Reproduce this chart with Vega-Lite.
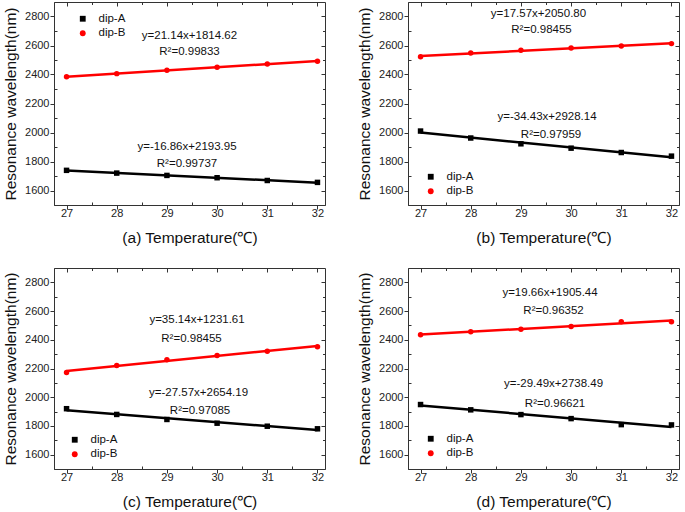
{
  "$schema": "https://vega.github.io/schema/vega-lite/v6.json",
  "padding": {"left": 3, "top": 1, "right": 0, "bottom": 0},
  "background": "white",
  "config": {
    "font": "Liberation Sans",
    "view": {"stroke": "#333", "strokeWidth": 1},
    "axis": {"grid": false, "domainColor": "#333", "tickColor": "#333", "labelColor": "#222", "titleColor": "#111", "labelFontSize": 11, "titleFontSize": 15.5, "titleFontWeight": "normal", "labelPadding": 1, "labelFont": "Liberation Sans", "titleFont": "Liberation Sans", "format": "d", "labelOverlap": false},
    "axisX": {"titlePadding": 11.5, "labelPadding": -1.5},
    "legend": {"labelFontSize": 11.5, "labelColor": "#111", "labelFont": "Liberation Sans", "symbolSize": 34, "rowPadding": 1.5, "labelOffset": 10, "padding": 0, "title": null, "symbolStrokeWidth": 0}
  },
  "datasets": {
    "pts": [
      {"panel": "a", "series": "dip-A", "t": 27, "wl": 1739}, {"panel": "a", "series": "dip-A", "t": 28, "wl": 1720}, {"panel": "a", "series": "dip-A", "t": 29, "wl": 1704}, {"panel": "a", "series": "dip-A", "t": 30, "wl": 1688}, {"panel": "a", "series": "dip-A", "t": 31, "wl": 1669}, {"panel": "a", "series": "dip-A", "t": 32, "wl": 1656},
      {"panel": "a", "series": "dip-B", "t": 27, "wl": 2385}, {"panel": "a", "series": "dip-B", "t": 28, "wl": 2406}, {"panel": "a", "series": "dip-B", "t": 29, "wl": 2429}, {"panel": "a", "series": "dip-B", "t": 30, "wl": 2450}, {"panel": "a", "series": "dip-B", "t": 31, "wl": 2473}, {"panel": "a", "series": "dip-B", "t": 32, "wl": 2492},
      {"panel": "b", "series": "dip-A", "t": 27, "wl": 2010}, {"panel": "b", "series": "dip-A", "t": 28, "wl": 1962}, {"panel": "b", "series": "dip-A", "t": 29, "wl": 1922}, {"panel": "b", "series": "dip-A", "t": 30, "wl": 1892}, {"panel": "b", "series": "dip-A", "t": 31, "wl": 1862}, {"panel": "b", "series": "dip-A", "t": 32, "wl": 1837},
      {"panel": "b", "series": "dip-B", "t": 27, "wl": 2523}, {"panel": "b", "series": "dip-B", "t": 28, "wl": 2548}, {"panel": "b", "series": "dip-B", "t": 29, "wl": 2567}, {"panel": "b", "series": "dip-B", "t": 30, "wl": 2583}, {"panel": "b", "series": "dip-B", "t": 31, "wl": 2597}, {"panel": "b", "series": "dip-B", "t": 32, "wl": 2613},
      {"panel": "c", "series": "dip-A", "t": 27, "wl": 1920}, {"panel": "c", "series": "dip-A", "t": 28, "wl": 1880}, {"panel": "c", "series": "dip-A", "t": 29, "wl": 1845}, {"panel": "c", "series": "dip-A", "t": 30, "wl": 1819}, {"panel": "c", "series": "dip-A", "t": 31, "wl": 1798}, {"panel": "c", "series": "dip-A", "t": 32, "wl": 1780},
      {"panel": "c", "series": "dip-B", "t": 27, "wl": 2172}, {"panel": "c", "series": "dip-B", "t": 28, "wl": 2221}, {"panel": "c", "series": "dip-B", "t": 29, "wl": 2261}, {"panel": "c", "series": "dip-B", "t": 30, "wl": 2291}, {"panel": "c", "series": "dip-B", "t": 31, "wl": 2320}, {"panel": "c", "series": "dip-B", "t": 32, "wl": 2352},
      {"panel": "d", "series": "dip-A", "t": 27, "wl": 1949}, {"panel": "d", "series": "dip-A", "t": 28, "wl": 1912}, {"panel": "d", "series": "dip-A", "t": 29, "wl": 1879}, {"panel": "d", "series": "dip-A", "t": 30, "wl": 1851}, {"panel": "d", "series": "dip-A", "t": 31, "wl": 1809}, {"panel": "d", "series": "dip-A", "t": 32, "wl": 1807},
      {"panel": "d", "series": "dip-B", "t": 27, "wl": 2435}, {"panel": "d", "series": "dip-B", "t": 28, "wl": 2456}, {"panel": "d", "series": "dip-B", "t": 29, "wl": 2474}, {"panel": "d", "series": "dip-B", "t": 30, "wl": 2493}, {"panel": "d", "series": "dip-B", "t": 31, "wl": 2526}, {"panel": "d", "series": "dip-B", "t": 32, "wl": 2526}
    ],
    "ann": [
      {"panel": "a", "t": 29.45, "wl": 2666, "label": "y=21.14x+1814.62"},
      {"panel": "a", "t": 29.45, "wl": 2557, "label": "R²=0.99833"},
      {"panel": "a", "t": 29.4, "wl": 1901, "label": "y=-16.86x+2193.95"},
      {"panel": "a", "t": 29.4, "wl": 1785, "label": "R²=0.99737"},
      {"panel": "b", "t": 29.35, "wl": 2816, "label": "y=17.57x+2050.80"},
      {"panel": "b", "t": 29.41, "wl": 2708, "label": "R²=0.98455"},
      {"panel": "b", "t": 29.52, "wl": 2108, "label": "y=-34.43x+2928.14"},
      {"panel": "b", "t": 29.6, "wl": 1985, "label": "R²=0.97959"},
      {"panel": "c", "t": 29.6, "wl": 2539, "label": "y=35.14x+1231.61"},
      {"panel": "c", "t": 29.49, "wl": 2403, "label": "R²=0.98455"},
      {"panel": "c", "t": 29.63, "wl": 2030, "label": "y=-27.57x+2654.19"},
      {"panel": "c", "t": 29.66, "wl": 1904, "label": "R²=0.97085"},
      {"panel": "d", "t": 29.58, "wl": 2723, "label": "y=19.66x+1905.44"},
      {"panel": "d", "t": 29.65, "wl": 2602, "label": "R²=0.96352"},
      {"panel": "d", "t": 29.65, "wl": 2091, "label": "y=-29.49x+2738.49"},
      {"panel": "d", "t": 29.68, "wl": 1951, "label": "R²=0.96621"}
    ]
  },
  "columns": 2,
  "spacing": {"row": 21, "column": 31},
  "resolve": {"scale": {"color": "independent", "shape": "independent"}, "legend": {"color": "independent", "shape": "independent"}},
  "concat": [
    {
      "width": 271, "height": 203,
      "resolve": {"axis": {"x": "independent", "y": "independent"}},
      "layer": [
        {"data": {"name": "pts"}, "transform": [{"filter": "datum.panel === 'a'"}, {"regression": "wl", "on": "t", "groupby": ["series"]}],
         "mark": {"type": "line", "strokeWidth": 2.5},
         "encoding": {
           "x": {"field": "t", "type": "quantitative", "scale": {"domain": [26.75, 32.15], "nice": false, "zero": false}, "axis": {"values": [27, 27.5, 28, 28.5, 29, 29.5, 30, 30.5, 31, 31.5, 32], "labelExpr": "datum.value % 1 === 0 ? datum.label : ''", "tickSize": {"condition": {"test": "datum.value % 1 !== 0", "value": -3}, "value": 4}, "title": "(a) Temperature(℃)"}},
           "y": {"field": "wl", "type": "quantitative", "scale": {"domain": [1500, 2900], "nice": false, "zero": false}, "axis": {"values": [1600, 1700, 1800, 1900, 2000, 2100, 2200, 2300, 2400, 2500, 2600, 2700, 2800], "labelExpr": "datum.value % 200 === 0 ? datum.label : ''", "tickSize": {"condition": {"test": "datum.value % 200 !== 0", "value": -3}, "value": 4}, "title": "Resonance wavelength(nm)", "titlePadding": 6}},
           "stroke": {"field": "series", "type": "nominal", "scale": {"domain": ["dip-A", "dip-B"], "range": ["#000000", "#ff0000"]}, "legend": null}}},
        {"data": {"name": "pts"}, "transform": [{"filter": "datum.panel === 'a'"}],
         "mark": {"type": "point", "filled": true, "opacity": 1},
         "encoding": {
           "x": {"field": "t", "type": "quantitative", "axis": null},
           "y": {"field": "wl", "type": "quantitative", "axis": null},
           "color": {"field": "series", "type": "nominal", "scale": {"domain": ["dip-A", "dip-B"], "range": ["#000000", "#ff0000"]}, "legend": {"orient": "top-left", "offset": 11, "symbolOffset": 12}},
           "shape": {"field": "series", "type": "nominal", "scale": {"domain": ["dip-A", "dip-B"], "range": ["square", "circle"]}, "legend": {"orient": "top-left", "offset": 11, "symbolOffset": 12}}}},
        {"data": {"name": "ann"}, "transform": [{"filter": "datum.panel === 'a'"}],
         "mark": {"type": "text", "fontSize": 11.5, "color": "#111", "font": "Liberation Sans"},
         "encoding": {"x": {"field": "t", "type": "quantitative", "axis": null}, "y": {"field": "wl", "type": "quantitative", "axis": null}, "text": {"field": "label"}}},
        {"data": {"name": "pts"}, "transform": [{"filter": "datum.panel === 'a'"}],
         "mark": {"type": "point", "opacity": 0},
         "encoding": {
           "x": {"field": "t", "type": "quantitative", "axis": {"orient": "top", "values": [27, 27.5, 28, 28.5, 29, 29.5, 30, 30.5, 31, 31.5, 32], "labels": false, "title": null, "domain": false, "tickSize": {"condition": {"test": "datum.value % 1 !== 0", "value": -2.5}, "value": -4}}},
           "y": {"field": "wl", "type": "quantitative", "axis": {"orient": "right", "values": [1600, 1700, 1800, 1900, 2000, 2100, 2200, 2300, 2400, 2500, 2600, 2700, 2800], "labels": false, "title": null, "domain": false, "tickSize": {"condition": {"test": "datum.value % 200 !== 0", "value": -2.5}, "value": -4}}}}}
      ]
    },
    {
      "width": 271, "height": 203,
      "resolve": {"axis": {"x": "independent", "y": "independent"}},
      "layer": [
        {"data": {"name": "pts"}, "transform": [{"filter": "datum.panel === 'b'"}, {"regression": "wl", "on": "t", "groupby": ["series"]}],
         "mark": {"type": "line", "strokeWidth": 2.5},
         "encoding": {
           "x": {"field": "t", "type": "quantitative", "scale": {"domain": [26.75, 32.15], "nice": false, "zero": false}, "axis": {"values": [27, 27.5, 28, 28.5, 29, 29.5, 30, 30.5, 31, 31.5, 32], "labelExpr": "datum.value % 1 === 0 ? datum.label : ''", "tickSize": {"condition": {"test": "datum.value % 1 !== 0", "value": -3}, "value": 4}, "title": "(b) Temperature(℃)"}},
           "y": {"field": "wl", "type": "quantitative", "scale": {"domain": [1500, 2900], "nice": false, "zero": false}, "axis": {"values": [1600, 1700, 1800, 1900, 2000, 2100, 2200, 2300, 2400, 2500, 2600, 2700, 2800], "labelExpr": "datum.value % 200 === 0 ? datum.label : ''", "tickSize": {"condition": {"test": "datum.value % 200 !== 0", "value": -3}, "value": 4}, "title": "Resonance wavelength(nm)", "titlePadding": 6}},
           "stroke": {"field": "series", "type": "nominal", "scale": {"domain": ["dip-A", "dip-B"], "range": ["#000000", "#ff0000"]}, "legend": null}}},
        {"data": {"name": "pts"}, "transform": [{"filter": "datum.panel === 'b'"}],
         "mark": {"type": "point", "filled": true, "opacity": 1},
         "encoding": {
           "x": {"field": "t", "type": "quantitative", "axis": null},
           "y": {"field": "wl", "type": "quantitative", "axis": null},
           "color": {"field": "series", "type": "nominal", "scale": {"domain": ["dip-A", "dip-B"], "range": ["#000000", "#ff0000"]}, "legend": {"orient": "bottom-left", "offset": 8, "symbolOffset": 9}},
           "shape": {"field": "series", "type": "nominal", "scale": {"domain": ["dip-A", "dip-B"], "range": ["square", "circle"]}, "legend": {"orient": "bottom-left", "offset": 8, "symbolOffset": 9}}}},
        {"data": {"name": "ann"}, "transform": [{"filter": "datum.panel === 'b'"}],
         "mark": {"type": "text", "fontSize": 11.5, "color": "#111", "font": "Liberation Sans"},
         "encoding": {"x": {"field": "t", "type": "quantitative", "axis": null}, "y": {"field": "wl", "type": "quantitative", "axis": null}, "text": {"field": "label"}}},
        {"data": {"name": "pts"}, "transform": [{"filter": "datum.panel === 'b'"}],
         "mark": {"type": "point", "opacity": 0},
         "encoding": {
           "x": {"field": "t", "type": "quantitative", "axis": {"orient": "top", "values": [27, 27.5, 28, 28.5, 29, 29.5, 30, 30.5, 31, 31.5, 32], "labels": false, "title": null, "domain": false, "tickSize": {"condition": {"test": "datum.value % 1 !== 0", "value": -2.5}, "value": -4}}},
           "y": {"field": "wl", "type": "quantitative", "axis": {"orient": "right", "values": [1600, 1700, 1800, 1900, 2000, 2100, 2200, 2300, 2400, 2500, 2600, 2700, 2800], "labels": false, "title": null, "domain": false, "tickSize": {"condition": {"test": "datum.value % 200 !== 0", "value": -2.5}, "value": -4}}}}}
      ]
    },
    {
      "width": 271, "height": 201,
      "resolve": {"axis": {"x": "independent", "y": "independent"}},
      "layer": [
        {"data": {"name": "pts"}, "transform": [{"filter": "datum.panel === 'c'"}, {"regression": "wl", "on": "t", "groupby": ["series"]}],
         "mark": {"type": "line", "strokeWidth": 2.5},
         "encoding": {
           "x": {"field": "t", "type": "quantitative", "scale": {"domain": [26.75, 32.15], "nice": false, "zero": false}, "axis": {"values": [27, 27.5, 28, 28.5, 29, 29.5, 30, 30.5, 31, 31.5, 32], "labelExpr": "datum.value % 1 === 0 ? datum.label : ''", "tickSize": {"condition": {"test": "datum.value % 1 !== 0", "value": -3}, "value": 4}, "title": "(c) Temperature(℃)"}},
           "y": {"field": "wl", "type": "quantitative", "scale": {"domain": [1500, 2900], "nice": false, "zero": false}, "axis": {"values": [1600, 1700, 1800, 1900, 2000, 2100, 2200, 2300, 2400, 2500, 2600, 2700, 2800], "labelExpr": "datum.value % 200 === 0 ? datum.label : ''", "tickSize": {"condition": {"test": "datum.value % 200 !== 0", "value": -3}, "value": 4}, "title": "Resonance wavelength(nm)", "titlePadding": 6}},
           "stroke": {"field": "series", "type": "nominal", "scale": {"domain": ["dip-A", "dip-B"], "range": ["#000000", "#ff0000"]}, "legend": null}}},
        {"data": {"name": "pts"}, "transform": [{"filter": "datum.panel === 'c'"}],
         "mark": {"type": "point", "filled": true, "opacity": 1},
         "encoding": {
           "x": {"field": "t", "type": "quantitative", "axis": null},
           "y": {"field": "wl", "type": "quantitative", "axis": null},
           "color": {"field": "series", "type": "nominal", "scale": {"domain": ["dip-A", "dip-B"], "range": ["#000000", "#ff0000"]}, "legend": {"orient": "bottom-left", "offset": 9, "symbolOffset": 6}},
           "shape": {"field": "series", "type": "nominal", "scale": {"domain": ["dip-A", "dip-B"], "range": ["square", "circle"]}, "legend": {"orient": "bottom-left", "offset": 9, "symbolOffset": 6}}}},
        {"data": {"name": "ann"}, "transform": [{"filter": "datum.panel === 'c'"}],
         "mark": {"type": "text", "fontSize": 11.5, "color": "#111", "font": "Liberation Sans"},
         "encoding": {"x": {"field": "t", "type": "quantitative", "axis": null}, "y": {"field": "wl", "type": "quantitative", "axis": null}, "text": {"field": "label"}}},
        {"data": {"name": "pts"}, "transform": [{"filter": "datum.panel === 'c'"}],
         "mark": {"type": "point", "opacity": 0},
         "encoding": {
           "x": {"field": "t", "type": "quantitative", "axis": {"orient": "top", "values": [27, 27.5, 28, 28.5, 29, 29.5, 30, 30.5, 31, 31.5, 32], "labels": false, "title": null, "domain": false, "tickSize": {"condition": {"test": "datum.value % 1 !== 0", "value": -2.5}, "value": -4}}},
           "y": {"field": "wl", "type": "quantitative", "axis": {"orient": "right", "values": [1600, 1700, 1800, 1900, 2000, 2100, 2200, 2300, 2400, 2500, 2600, 2700, 2800], "labels": false, "title": null, "domain": false, "tickSize": {"condition": {"test": "datum.value % 200 !== 0", "value": -2.5}, "value": -4}}}}}
      ]
    },
    {
      "width": 271, "height": 201,
      "resolve": {"axis": {"x": "independent", "y": "independent"}},
      "layer": [
        {"data": {"name": "pts"}, "transform": [{"filter": "datum.panel === 'd'"}, {"regression": "wl", "on": "t", "groupby": ["series"]}],
         "mark": {"type": "line", "strokeWidth": 2.5},
         "encoding": {
           "x": {"field": "t", "type": "quantitative", "scale": {"domain": [26.75, 32.15], "nice": false, "zero": false}, "axis": {"values": [27, 27.5, 28, 28.5, 29, 29.5, 30, 30.5, 31, 31.5, 32], "labelExpr": "datum.value % 1 === 0 ? datum.label : ''", "tickSize": {"condition": {"test": "datum.value % 1 !== 0", "value": -3}, "value": 4}, "title": "(d) Temperature(℃)"}},
           "y": {"field": "wl", "type": "quantitative", "scale": {"domain": [1500, 2900], "nice": false, "zero": false}, "axis": {"values": [1600, 1700, 1800, 1900, 2000, 2100, 2200, 2300, 2400, 2500, 2600, 2700, 2800], "labelExpr": "datum.value % 200 === 0 ? datum.label : ''", "tickSize": {"condition": {"test": "datum.value % 200 !== 0", "value": -3}, "value": 4}, "title": "Resonance wavelength(nm)", "titlePadding": 6}},
           "stroke": {"field": "series", "type": "nominal", "scale": {"domain": ["dip-A", "dip-B"], "range": ["#000000", "#ff0000"]}, "legend": null}}},
        {"data": {"name": "pts"}, "transform": [{"filter": "datum.panel === 'd'"}],
         "mark": {"type": "point", "filled": true, "opacity": 1},
         "encoding": {
           "x": {"field": "t", "type": "quantitative", "axis": null},
           "y": {"field": "wl", "type": "quantitative", "axis": null},
           "color": {"field": "series", "type": "nominal", "scale": {"domain": ["dip-A", "dip-B"], "range": ["#000000", "#ff0000"]}, "legend": {"orient": "bottom-left", "offset": 10, "symbolOffset": 7}},
           "shape": {"field": "series", "type": "nominal", "scale": {"domain": ["dip-A", "dip-B"], "range": ["square", "circle"]}, "legend": {"orient": "bottom-left", "offset": 10, "symbolOffset": 7}}}},
        {"data": {"name": "ann"}, "transform": [{"filter": "datum.panel === 'd'"}],
         "mark": {"type": "text", "fontSize": 11.5, "color": "#111", "font": "Liberation Sans"},
         "encoding": {"x": {"field": "t", "type": "quantitative", "axis": null}, "y": {"field": "wl", "type": "quantitative", "axis": null}, "text": {"field": "label"}}},
        {"data": {"name": "pts"}, "transform": [{"filter": "datum.panel === 'd'"}],
         "mark": {"type": "point", "opacity": 0},
         "encoding": {
           "x": {"field": "t", "type": "quantitative", "axis": {"orient": "top", "values": [27, 27.5, 28, 28.5, 29, 29.5, 30, 30.5, 31, 31.5, 32], "labels": false, "title": null, "domain": false, "tickSize": {"condition": {"test": "datum.value % 1 !== 0", "value": -2.5}, "value": -4}}},
           "y": {"field": "wl", "type": "quantitative", "axis": {"orient": "right", "values": [1600, 1700, 1800, 1900, 2000, 2100, 2200, 2300, 2400, 2500, 2600, 2700, 2800], "labels": false, "title": null, "domain": false, "tickSize": {"condition": {"test": "datum.value % 200 !== 0", "value": -2.5}, "value": -4}}}}}
      ]
    }
  ]
}
